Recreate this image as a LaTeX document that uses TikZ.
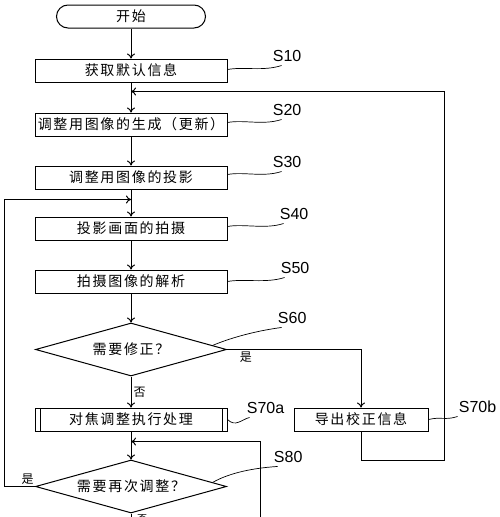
\documentclass[tikz,border=0pt]{standalone}
\usepackage{fontspec}
\setsansfont{Liberation Sans}
\newfontfamily\cjk[LetterSpace=12]{Noto Sans CJK SC}
\usetikzlibrary{arrows.meta,shapes,positioning,calc}
\tikzstyle{block} = [
  rectangle, draw, line width=1pt, text centered, minimum width=192pt,
  minimum height=23pt, inner sep=0pt, font=\cjk\fontsize{14}{14}\selectfont
]
\tikzstyle{term} = [block, rounded corners=11.5pt, minimum width=149pt]
\tikzstyle{decision} = [
  diamond, draw, line width=1pt, aspect=3.6, minimum width=191pt,
  minimum height=53pt, inner sep=0pt, font=\cjk\fontsize{14}{14}\selectfont
]
\tikzstyle{predef} = [
  block, path picture={
    \draw ([xshift=5pt]path picture bounding box.north west) --
          ([xshift=5pt]path picture bounding box.south west);
    \draw ([xshift=-5pt]path picture bounding box.north east) --
          ([xshift=-5pt]path picture bounding box.south east);
  }
]
\tikzstyle{line} = [draw, line width=1pt, -{To[length=5pt,width=8pt]}]
\tikzstyle{wave} = [draw, line width=0.7pt]
\tikzstyle{steplabel} = [font=\sffamily\fontsize{16}{16}\selectfont, inner sep=0pt]
\tikzstyle{answer} = [font=\cjk\fontsize{12}{12}\selectfont, inner sep=2pt]

\begin{document}
\begin{tikzpicture}[x=1pt, y=1pt]
    \useasboundingbox (0,0) rectangle (500,-517);
    \node[term] (start) at (131,-16.5) {开始};
    \node[block, below=30pt of start] (s10) {获取默认信息};
    \node[block, below=30pt of s10] (s20) {调整用图像的生成（更新）};
    \node[block, below=29pt of s20] (s30) {调整用图像的投影};
    \node[block, below=27pt of s30] (s40) {投影画面的拍摄};
    \node[block, below=29pt of s40] (s50) {拍摄图像的解析};
    \node[decision, below=29pt of s50] (s60) {需要修正？};
    \node[predef, below=31pt of s60] (s70a) {对焦调整执行处理};
    \node[decision, below=28pt of s70a] (s80) {需要再次调整？};
    \node[block, right=66pt of s70a, minimum width=134pt] (s70b) {导出校正信息};
    \node[answer, anchor=base west, inner sep=0pt, font=\cjk\fontsize{10}{10}\selectfont]
      (no80) at ($(s80.south)+(6,-8.5)$) {否};

    \coordinate (join1) at ($(s10.south)!0.3!(s20.north)$);
    \coordinate (join2) at ($(s30.south)!0.37!(s40.north)$);
    \coordinate (join3) at ($(s70a.south)!0.36!(s80.north)$);
    \coordinate (tail) at (260,-520);
    \coordinate (exit) at ($(s80.south)+(0,-16)$);

    \draw[line] (start) -- (s10);
    \draw[line] (s10) -- (s20);
    \draw[line] (s20) -- (s30);
    \draw[line] (s30) -- (s40);
    \draw[line] (s40) -- (s50);
    \draw[line] (s50) -- (s60);
    \draw[line] (s60) -- node[answer, right] {否} (s70a);
    \draw[line] (s70a) -- (s80);
    \draw[line width=1pt] (s80) -- (exit);
    \draw[line] (s60.east) -| node[answer, below, pos=0.07] {是} (s70b.north);
    \draw[line] (s70b.south) -- ++(0,-29) -| ($(join1)+(313,0)$) -- (join1);
    \draw[line] (s80.west) -- node[answer, above, pos=0.24] {是} ++(-31,0) |- (join2);
    \draw[line] (tail) |- (join3);

    % step numbers
    \draw[wave] ([yshift=1pt]s10.east) .. controls +(16,3) and +(-18,-6) .. ++(54,4)
      node[steplabel, anchor=south west, xshift=-9pt, yshift=3pt] {S10};
    \draw[wave] ([yshift=2pt]s20.east) .. controls +(16,3) and +(-18,-6) .. ++(54,3)
      node[steplabel, anchor=south west, xshift=-9pt, yshift=3pt] {S20};
    \draw[wave] ([yshift=3pt]s30.east) .. controls +(16,3) and +(-18,-6) .. ++(54,3)
      node[steplabel, anchor=south west, xshift=-9pt, yshift=3pt] {S30};
    \draw[wave] ([yshift=2pt]s40.east) .. controls +(16,3) and +(-18,-6) .. ++(56,3)
      node[steplabel, anchor=south west, xshift=-4pt, yshift=3pt] {S40};
    \draw[wave] ([yshift=0pt]s50.east) .. controls +(16,3) and +(-18,-6) .. ++(57,4)
      node[steplabel, anchor=south west, xshift=-4pt, yshift=3pt] {S50};
    \draw[wave] ($(s60.east)!0.15!(s60.north)$) .. controls +(14,6) and +(-30,-4) .. ++(69,18)
      node[steplabel, anchor=south west, xshift=-4pt, yshift=3pt] {S60};
    \draw[wave] (s70a.east) .. controls +(8,-8) and +(-8,-2) .. ++(22,2)
      node[steplabel, anchor=south west, xshift=-3pt, yshift=3pt] {S70a};
    \draw[wave] (s70b.east) .. controls +(12,3) and +(-12,-4) .. ++(29,3)
      node[steplabel, anchor=south west, xshift=1pt, yshift=3pt] {S70b};
    \draw[wave] ($(s80.east)!0.15!(s80.north)$) .. controls +(14,8) and +(-30,-2) .. ++(65,16)
      node[steplabel, anchor=south west, xshift=-4pt, yshift=3pt] {S80};
\end{tikzpicture}
\end{document}
